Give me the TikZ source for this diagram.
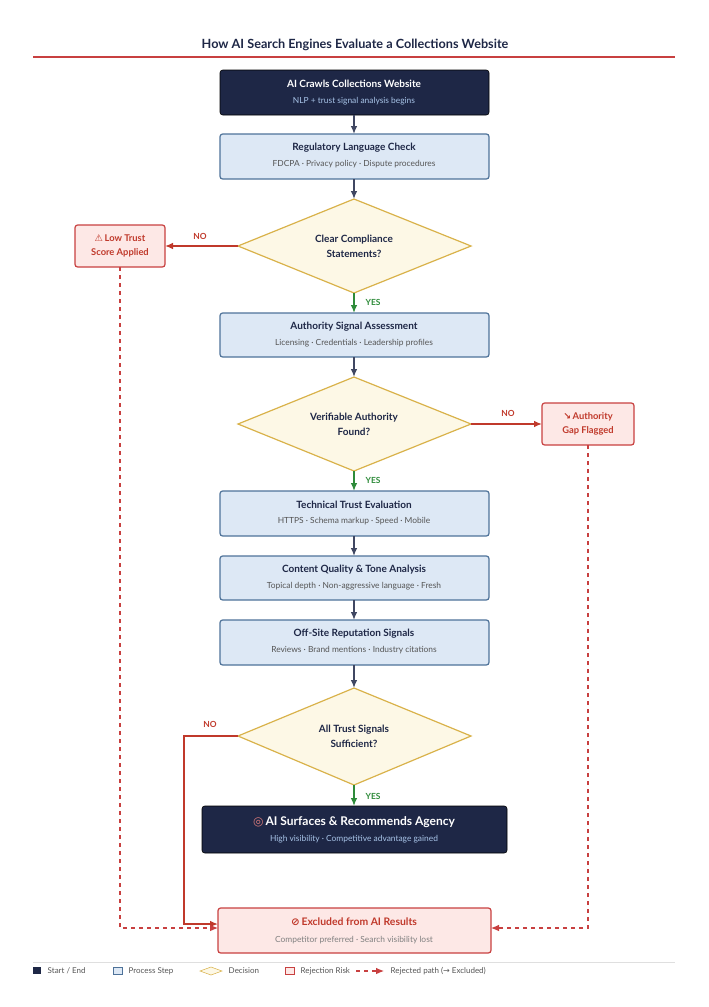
\documentclass[tikz,border=0pt]{standalone}
\usepackage{fontspec}
\setmainfont{Lato}
\newfontfamily\sym{DejaVu Sans}
\usetikzlibrary{shapes.geometric,arrows.meta}
\definecolor{navy}{HTML}{1E2746}
\definecolor{pfill}{HTML}{DDE8F5}
\definecolor{pborder}{HTML}{4E7299}
\definecolor{dfill}{HTML}{FDF8E6}
\definecolor{dborder}{HTML}{D9B24A}
\definecolor{rfill}{HTML}{FDE8E6}
\definecolor{rborder}{HTML}{C84040}
\definecolor{rtext}{HTML}{C0392B}
\definecolor{gtext}{HTML}{2E8B3A}
\definecolor{subg}{HTML}{555555}
\definecolor{lblue}{HTML}{A8C4E8}
\begin{document}
\begin{tikzpicture}[x=0.75pt,y=-0.75pt,
 proc/.style={draw=pborder,fill=pfill,rounded corners=2pt,line width=0.9pt},
 dark/.style={fill=navy,rounded corners=2pt},
 rej/.style={draw=rborder,fill=rfill,rounded corners=2pt,line width=0.9pt},
 dia/.style={draw=dborder,fill=dfill,line width=0.9pt},
 ttl/.style={font=\bfseries\fontsize{7.5}{9}\selectfont,text=navy},
 sub/.style={font=\fontsize{6.3}{8}\selectfont,text=subg},
 flow/.style={-{Latex[length=6pt,width=5pt]},line width=1.1pt,draw=navy!85},
 yes/.style={-{Latex[length=6pt,width=5pt]},line width=1.1pt,draw=gtext},
 no/.style={-{Latex[length=6pt,width=5pt]},line width=1.1pt,draw=rtext},
 rejd/.style={-{Latex[length=6pt,width=5pt]},line width=0.8pt,draw=rborder,dashed},
 lab/.style={font=\bfseries\fontsize{6.3}{8}\selectfont},
 rt/.style={font=\bfseries\fontsize{7}{9}\selectfont,text=rtext,align=center}]
\useasboundingbox (0,0) rectangle (709,1007);
\node[font=\bfseries\fontsize{9.5}{11}\selectfont,text=navy] (title) at (355,45) {How AI Search Engines Evaluate a Collections Website};
\draw[rborder,line width=1.3pt] (33,57) -- (675,57);
% boxes
\draw[dark] (220,70) rectangle (489,115);
\node[ttl,text=white] at (354,84) {AI Crawls Collections Website};
\node[sub,text=lblue] at (354,101) {NLP + trust signal analysis begins};
\draw[proc] (220,134) rectangle (489,179);
\node[ttl] at (354,148) {Regulatory Language Check};
\node[sub] at (354,164) {FDCPA · Privacy policy · Dispute procedures};
\draw[dia] (354,199) -- (471,246) -- (354,293) -- (238,246) -- cycle;
\node[ttl,align=center] at (354,246) {Clear Compliance\\[2pt]Statements?};
\draw[rej] (75,225) rectangle (165,267);
\node[rt] at (120,246) {{\sym ⚠}\,Low Trust\\[2pt]Score Applied};
\draw[proc] (220,313) rectangle (489,357);
\node[ttl] at (354,327) {Authority Signal Assessment};
\node[sub] at (354,343) {Licensing · Credentials · Leadership profiles};
\draw[dia] (354,377) -- (471,424) -- (354,471) -- (238,424) -- cycle;
\node[ttl,align=center] at (354,424) {Verifiable Authority\\[2pt]Found?};
\draw[rej] (542,403) rectangle (634,445);
\node[rt] at (588,424) {{\sym ↘}\,Authority\\[2pt]Gap Flagged};
\draw[proc] (220,491) rectangle (489,536);
\node[ttl] at (354,505) {Technical Trust Evaluation};
\node[sub] at (354,521) {HTTPS · Schema markup · Speed · Mobile};
\draw[proc] (220,556) rectangle (489,600);
\node[ttl] at (354,570) {Content Quality \& Tone Analysis};
\node[sub] at (354,586) {Topical depth · Non-aggressive language · Fresh};
\draw[proc] (220,620) rectangle (489,665);
\node[ttl] at (354,634) {Off-Site Reputation Signals};
\node[sub] at (354,650) {Reviews · Brand mentions · Industry citations};
\draw[dia] (354,688) -- (471,736) -- (354,785) -- (238,736) -- cycle;
\node[ttl,align=center] at (354,736) {All Trust Signals\\[2pt]Sufficient?};
\draw[dark] (202,806) rectangle (507,853);
\node[font=\bfseries\fontsize{9}{11}\selectfont,text=white] at (354,822) {{\sym\color{rborder!70!white}◎}\,AI Surfaces \& Recommends Agency};
\node[sub,text=lblue] at (354,839) {High visibility · Competitive advantage gained};
\draw[rej] (218,908) rectangle (491,953);
\node[font=\bfseries\fontsize{7.8}{9}\selectfont,text=rtext] at (354,922) {{\sym ⊘}\,Excluded from AI Results};
\node[sub,text=gray] at (354,940) {Competitor preferred · Search visibility lost};
% connectors
\coordinate (a1) at (354,115); \coordinate (a2) at (354,134);
\draw[flow] (a1) -- (a2);
\coordinate (c1) at (354,179); \coordinate (c2) at (354,199);
\draw[flow] (c1) -- (c2);
\coordinate (d1b) at (354,293); \coordinate (p3) at (354,313);
\draw[yes] (d1b) -- (p3);
\node[lab,text=gtext] at (373,302) {YES};
\coordinate (d1l) at (238,246); \coordinate (lt) at (165,246);
\draw[no] (d1l) -- (lt);
\node[lab,text=rtext] at (200,236) {NO};
\coordinate (p3b) at (354,357); \coordinate (d2t) at (354,377);
\draw[flow] (p3b) -- (d2t);
\coordinate (d2r) at (471,424); \coordinate (gl) at (542,424);
\draw[no] (d2r) -- (gl);
\node[lab,text=rtext] at (508,413) {NO};
\coordinate (d2b) at (354,471); \coordinate (p4) at (354,491);
\draw[yes] (d2b) -- (p4);
\node[lab,text=gtext] at (373,480) {YES};
\coordinate (p4b) at (354,536); \coordinate (p5) at (354,556);
\draw[flow] (p4b) -- (p5);
\coordinate (p5b) at (354,600); \coordinate (p6) at (354,620);
\draw[flow] (p5b) -- (p6);
\coordinate (p6b) at (354,665); \coordinate (d3t) at (354,688);
\draw[flow] (p6b) -- (d3t);
\coordinate (d3b) at (354,785); \coordinate (fin) at (354,806);
\draw[yes] (d3b) -- (fin);
\node[lab,text=gtext] at (373,796) {YES};
\coordinate (d3l) at (238,736); \coordinate (exl) at (218,924);
\draw[no] (d3l) -- (184,736) -- (184,924) -- (exl);
\node[lab,text=rtext] at (210,724) {NO};
\coordinate (ltb) at (120,267); \coordinate (exl2) at (218,928);
\draw[rejd] (ltb) -- (120,928) -- (exl2);
\coordinate (gb) at (588,445); \coordinate (exr) at (491,928);
\draw[rejd] (gb) -- (588,928) -- (exr);
% legend
\draw[gray!25,line width=0.6pt] (33,962) -- (675,962);
\tikzset{lg/.style={font=\fontsize{6}{7}\selectfont,text=subg,anchor=west}}
\fill[navy] (33,967) rectangle (41,974); \node[lg] at (43,971) {Start / End};
\draw[pborder,fill=pfill] (113,967) rectangle (122,974); \node[lg] at (124,971) {Process Step};
\draw[dborder,fill=dfill] (200,971) -- (211,967) -- (222,971) -- (211,975) -- cycle; \node[lg] at (224,971) {Decision};
\draw[rborder,fill=rfill] (285,967) rectangle (294,974); \node[lg] at (296,971) {Rejection Risk};
\coordinate (lga) at (356,971); \coordinate (lgb) at (384,971);
\draw[rejd] (lga) -- (lgb); \node[lg] at (386,971) {Rejected path ({\sym →} Excluded)};
\end{tikzpicture}
\end{document}
